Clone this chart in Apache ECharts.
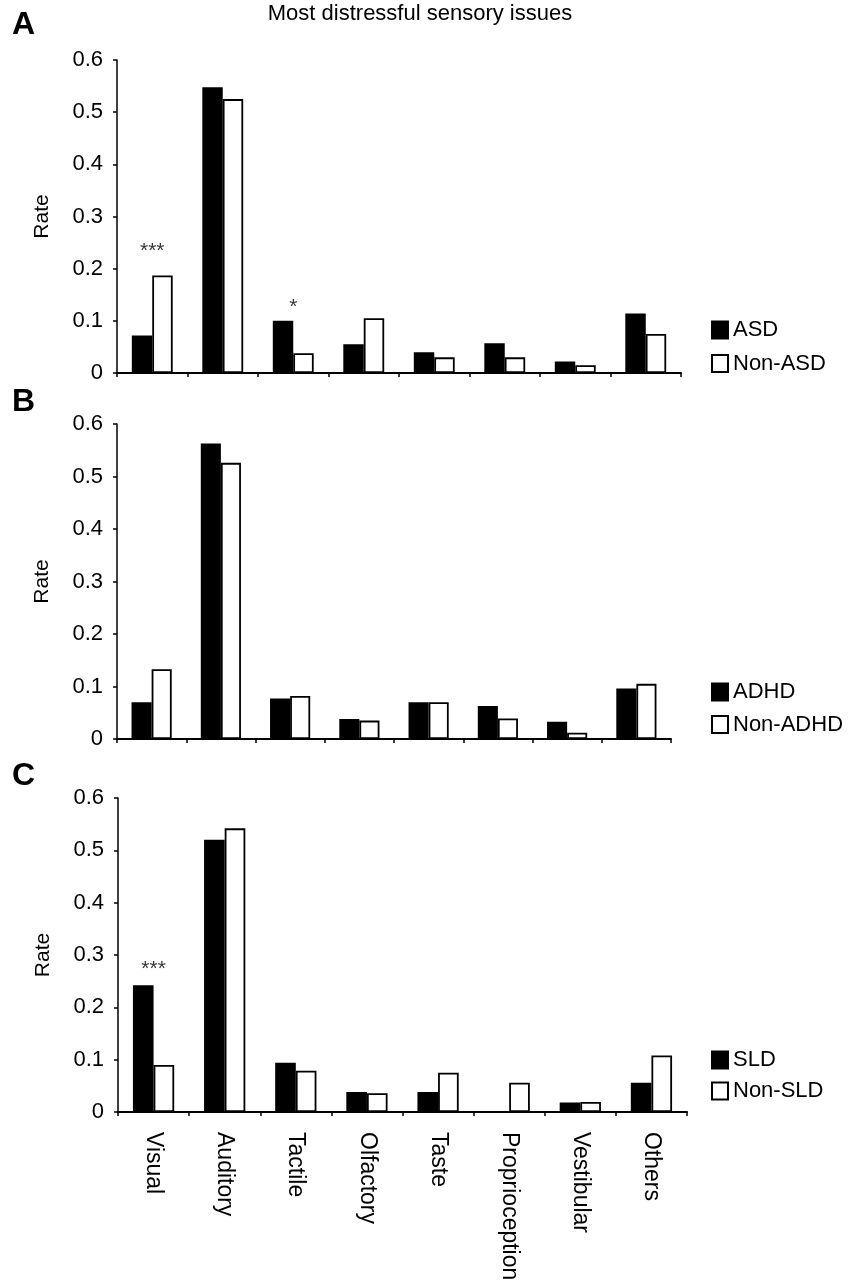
<!DOCTYPE html>
<html>
<head>
<meta charset="utf-8">
<title>Most distressful sensory issues</title>
<script src="https://cdn.jsdelivr.net/npm/echarts@6/dist/echarts.min.js"></script>
<style>
  html, body { margin: 0; padding: 0; background: #fff; }
  #chart { width: 854px; height: 1287px; }
</style>
</head>
<body>
<div id="chart"></div>
<script>
// categories and values
const categories = ["Visual", "Auditory", "Tactile", "Olfactory", "Taste", "Proprioception", "Vestibular", "Others"];
const yTicks = [0, 0.1, 0.2, 0.3, 0.4, 0.5, 0.6];

const asd = [0.072, 0.548, 0.100, 0.055, 0.040, 0.057, 0.022, 0.114];
const nonAsd = [0.187, 0.525, 0.038, 0.105, 0.030, 0.030, 0.015, 0.075];
const adhd = [0.070, 0.563, 0.077, 0.038, 0.070, 0.063, 0.033, 0.096];
const nonAdhd = [0.133, 0.526, 0.082, 0.035, 0.070, 0.039, 0.012, 0.105];
const sld = [0.242, 0.520, 0.094, 0.038, 0.038, 0, 0.018, 0.056];
const nonSld = [0.090, 0.542, 0.079, 0.036, 0.075, 0.056, 0.019, 0.108];

// significance marks: [category, height, text]
const sigA = [["Visual", 0.234, "***"], ["Tactile", 0.127, "*"]];
const sigB = [];
const sigC = [["Visual", 0.272, "***"]];

const FONT = "'Liberation Sans', Arial, sans-serif";

const panels = [
  { letter: "A", letterY: 25, top: 60, height: 313, left: 117, width: 564, legendTop: 319, legendGap: 11.5,
    names: ["ASD", "Non-ASD"], values: [asd, nonAsd], sig: sigA, labels: false },
  { letter: "B", letterY: 402, top: 424, height: 315, left: 117, width: 554, legendTop: 681, legendGap: 10.5,
    names: ["ADHD", "Non-ADHD"], values: [adhd, nonAdhd], sig: sigB, labels: false },
  { letter: "C", letterY: 776, top: 798, height: 314, left: 118, width: 569, legendTop: 1049, legendGap: 9,
    names: ["SLD", "Non-SLD"], values: [sld, nonSld], sig: sigC, labels: true },
];

const chart = echarts.init(document.getElementById("chart"));

const grid = [], xAxis = [], yAxis = [], legend = [], series = [];
const graphic = [{
  type: "text", x: 420, y: 14,
  style: { text: "Most distressful sensory issues", font: "22px " + FONT, fill: "#000",
           align: "center", verticalAlign: "middle" }
}];

panels.forEach((p, i) => {
  grid.push({ left: p.left, top: p.top, width: p.width, height: p.height, containLabel: false });

  xAxis.push({
    type: "category", gridIndex: i, data: categories,
    axisLine: { lineStyle: { color: "#000", width: 2 } },
    axisTick: { show: true, length: 4, lineStyle: { color: "#000", width: 1.5 } },
    axisLabel: {
      show: p.labels, interval: 0, rotate: -90, margin: 20,
      fontSize: 23, fontFamily: FONT, color: "#000"
    },
    splitLine: { show: false }
  });

  yAxis.push({
    type: "value", gridIndex: i, min: 0, max: 0.6, interval: 0.1,
    name: "Rate", nameLocation: "middle", nameGap: 64, nameRotate: 90,
    nameTextStyle: { fontSize: 21, fontFamily: FONT, color: "#000" },
    axisLine: { show: true, lineStyle: { color: "#000", width: 1.5 } },
    axisTick: { show: true, length: 4, lineStyle: { color: "#000", width: 1.5 } },
    axisLabel: {
      margin: 14, fontSize: 22, fontFamily: FONT, color: "#000",
      formatter: v => String(yTicks.find(t => Math.abs(t - v) < 1e-9) ?? v)
    },
    splitLine: { show: false }
  });

  legend.push({
    orient: "vertical", left: 711, top: p.legendTop, padding: 0,
    itemWidth: 16, itemHeight: 17, itemGap: p.legendGap, icon: "rect",
    data: p.names, selectedMode: false,
    textStyle: { fontSize: 22, fontFamily: FONT, color: "#000" }
  });

  p.names.forEach((name, k) => {
    series.push({
      name, type: "bar", xAxisIndex: i, yAxisIndex: i,
      data: p.values[k],
      barGap: "0%", barCategoryGap: "42%",
      itemStyle: { color: k === 0 ? "#000" : "#fff", borderColor: "#000", borderWidth: 1.8 },
      emphasis: { disabled: true },
      animation: false
    });
  });

  if (p.sig.length) {
    series.push({
      type: "scatter", xAxisIndex: i, yAxisIndex: i,
      symbolSize: 0, silent: true, animation: false,
      data: p.sig.map(s => ({ value: [s[0], s[1]], text: s[2] })),
      label: {
        show: true, position: "inside", fontSize: 21, fontFamily: FONT, color: "#000",
        formatter: d => d.data.text
      }
    });
  }

  graphic.push({
    type: "text", x: 12, y: p.letterY,
    style: { text: p.letter, font: "bold 32px " + FONT, fill: "#000",
             align: "left", verticalAlign: "middle" }
  });
});

const option = {
  backgroundColor: "#fff",
  animation: false,
  grid, xAxis, yAxis, legend, series, graphic
};

option && chart.setOption(option);
</script>
</body>
</html>
